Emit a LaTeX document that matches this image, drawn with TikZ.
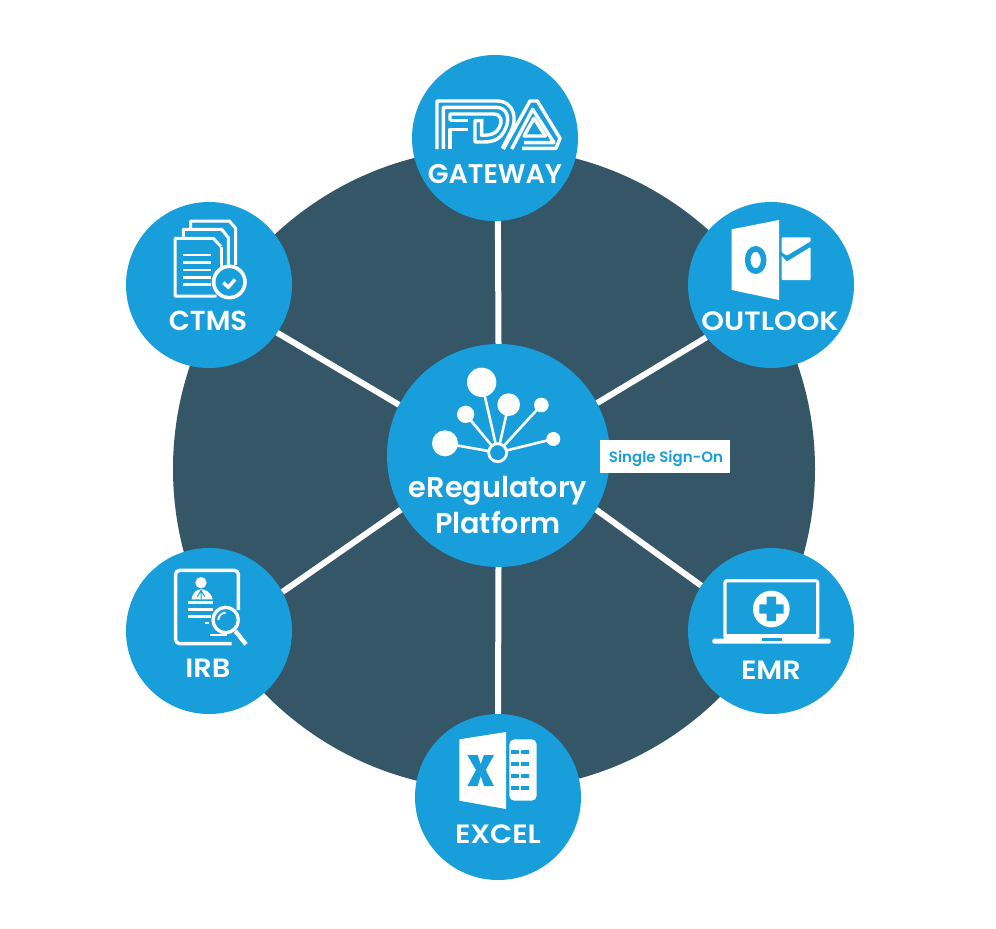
\documentclass[tikz,border=0pt]{standalone}
\usepackage{fontspec}
\setmainfont{Poppins SemiBold}
\newfontfamily\widelabel[FakeStretch=1.09]{Poppins SemiBold}
\definecolor{discblue}{HTML}{345666}
\definecolor{hubblue}{HTML}{189FDB}
\tikzset{
    spot/.style={circle, fill=hubblue, inner sep=0pt, minimum size=#1},
    name label/.style={white, inner sep=0pt, anchor=base, font=\fontsize{26.5}{26.5}\selectfont},
    wide label/.style={name label, font=\fontsize{26.5}{26.5}\widelabel},
    hub label/.style={name label, font=\fontsize{28.7}{28.7}\selectfont},
    icon/.style={scale=1/3, line join=round},
    spoke/.style={white, line width=6pt},
    ink/.style={white, line width=#1},
    ink/.default=3pt,
    cut/.style={hubblue, line width=#1},
    cut/.default=2.4pt,
}
\begin{document}
\begin{tikzpicture}[x=1pt, y=-1pt]
    \useasboundingbox (0,0) rectangle (996,929);
    \node[circle, fill=discblue, inner sep=0pt, minimum size=642pt] (disc) at (494,469) {};

    \node[spot=223pt] (hub) at (498.5,455.5) {};
    \node[spot=166pt] (fda) at (495,138) {};
    \node[spot=166pt] (ctms) at (209,285) {};
    \node[spot=166pt] (outlook) at (771,285) {};
    \node[spot=166pt] (irb) at (209,631) {};
    \node[spot=166pt] (emr) at (771,631) {};
    \node[spot=166pt] (excel) at (498,797) {};

    \draw[spoke] (hub.90.5) -- (fda.-88.5);
    \draw[spoke] (hub.-90.5) -- (excel.90.5);
    \draw[spoke] (hub.153) -- (ctms.-35);
    \draw[spoke] (hub.28) -- (outlook.-141);
    \draw[spoke] (hub.209) -- (irb.28);
    \draw[spoke] (hub.-29) -- (emr.147);

    \node[name label, font=\fontsize{27}{27}\selectfont] (fdatext) at (495,183) {GATEWAY};
    \node[name label, font=\fontsize{27.5}{27.5}\selectfont] (ctmstext) at (208,330) {CTMS};
    \node[wide label] (outlooktext) at (770,330) {OUTLOOK};
    \node[wide label] (irbtext) at (208,677) {IRB};
    \node[wide label] (emrtext) at (771,679) {EMR};
    \node[wide label] (exceltext) at (498,843) {EXCEL};
    \node[hub label] (hubtexta) at (498,497) {eRegulatory};
    \node[hub label] (hubtextb) at (498,533) {Platform};
    \node[fill=white, inner sep=0pt, minimum width=130pt, minimum height=33pt] (sso) at (665,456.5) {};
    \node[text=hubblue, inner sep=0pt, anchor=base, font=\fontsize{15}{15}\selectfont] (ssotext) at (666,462) {Single Sign-On};

    \begin{scope}[icon, shift={(1140,1020)}]
        \foreach \px/\py/\rr in {305/127/44, 386/194/34, 257/223/26, 484/195/22, 195/310/39, 520/297/21} {
            \draw[ink=2.6pt] (353,338) -- (\px,\py);
            \fill[white] (\px,\py) circle (\rr);
        }
        \draw[ink=2.8pt, fill=hubblue] (353,338) circle (27);
    \end{scope}

    \begin{scope}[shift={(400,50)}, icon, miter limit=10]
        \draw[ink=3.4pt] (111,297) -- (111,153) -- (290,153) .. controls (345,153) and (350,210) .. (335,240) -- (307,295);
        \draw[ink=3.4pt] (130,297) -- (130,172) -- (288,172) .. controls (325,172) and (328,210) .. (318,232) .. controls (305,265) and (285,276) .. (250,276) -- (225,276) -- (225,212) -- (250,212);
        \draw[ink=3.4pt] (150,297) -- (150,238) -- (205,238);
        \draw[ink=3.4pt] (150,212) -- (150,192) -- (280,192) .. controls (305,192) and (308,215) .. (298,232) .. controls (290,250) and (275,256) .. (245,256) -- (245,212);
        \draw[ink=3.4pt] (150,212) -- (205,212);
        \draw[ink=3.4pt] (310,297) -- (390,153) -- (412,153) -- (480,265) -- (468,295) -- (366,295);
        \draw[ink=3.4pt] (335,297) -- (398,178) -- (462,278) -- (372,278);
        \draw[ink=3.4pt] (372,258) -- (436,258) -- (402,205) -- cycle;
    \end{scope}

    \begin{scope}[shift={(120,190)}, icon]
        \draw[ink] (212,115) -- (212,93) -- (328,93) -- (347,115) -- (347,225);
        \draw[ink] (190,140) -- (190,118) -- (305,118) -- (325,143) -- (325,240);
        \draw[ink, fill=hubblue] (303,170) -- (280,145) -- (165,145) -- (165,318) -- (290,318);
        \draw[ink] (303,170) -- (303,240);
        \foreach \ly in {195,217,240,262,284}
            \draw[ink=2.8pt] (190,\ly) -- (272,\ly);
        \draw[ink=3.6pt, fill=hubblue] (328,276) circle (47);
        \draw[ink=3.4pt] (310,278) -- (325,292) -- (345,268);
    \end{scope}

    \begin{scope}[shift={(680,200)}, icon]
        \fill[white] (155,88) -- (297,60) -- (297,300) -- (155,270) -- cycle;
        \draw[cut=5.6pt] (227,180) ellipse (24 and 33.5);
        \fill[white, rounded corners=1pt] (305,112) -- (392,112) -- (392,124) -- (320,167) -- (305,157) -- cycle;
        \fill[white, rounded corners=1pt] (305,167) -- (320,185) -- (392,141) -- (392,240) -- (305,240) -- cycle;
    \end{scope}

    \begin{scope}[shift={(120,545)}, icon]
        \draw[ink=3.4pt, rounded corners=4pt] (355,195) -- (355,76) -- (167,76) -- (167,296) -- (335,296);
        \fill[white] (243,113) circle (17);
        \fill[white] (215,163) .. controls (218,140) and (232,133) .. (243,133) .. controls (256,133) and (272,140) .. (278,163) -- cycle;
        \draw[cut=1pt] (243,136) -- (243,163) (243,136) -- (232,155) (243,136) -- (254,155);
        \draw[ink=2.9pt] (205,173) -- (278,173) (205,193) -- (278,193) (205,214) -- (272,214) (256,234) -- (268,234) (270,270) -- (320,270);
        \draw[ink=3.3pt, fill=hubblue] (317,225) circle (38);
        \draw[ink=1.8pt] (295,225) arc (180:270:22);
        \draw[ink=4.2pt] (346,258) -- (378,298);
    \end{scope}

    \begin{scope}[shift={(680,545)}, icon]
        \draw[ink=3.2pt, rounded corners=2pt] (135,278) -- (135,107) -- (413,107) -- (413,278);
        \fill[white] (133,268) rectangle (415,283);
        \fill[white, rounded corners=1.5pt] (97,281) rectangle (452,296);
        \fill[hubblue] (245,280) rectangle (305,287);
        \fill[white] (274,192) circle (55);
        \fill[hubblue] (260,155) -- (288,155) -- (288,178) -- (311,178) -- (311,206) -- (288,206) -- (288,228) -- (260,228) -- (260,206) -- (238,206) -- (238,178) -- (260,178) -- cycle;
    \end{scope}

    \begin{scope}[shift={(410,710)}, icon]
        \fill[white] (148,88) -- (288,66) -- (288,297) -- (148,272) -- cycle;
        \fill[hubblue] (172,135) -- (203,135) -- (212,163) -- (222,135) -- (252,135) -- (227,180) -- (252,228) -- (222,228) -- (212,198) -- (203,228) -- (172,228) -- (198,180) -- cycle;
        \fill[white, rounded corners=5pt] (298,88) -- (380,88) -- (380,272) -- (298,272) -- cycle;
        \foreach \ly in {125,161,197,233} {
            \fill[hubblue] (303,\ly-6) rectangle (327,\ly+6);
            \fill[hubblue] (333,\ly-6) rectangle (358,\ly+6);
        }
    \end{scope}
\end{tikzpicture}
\end{document}
